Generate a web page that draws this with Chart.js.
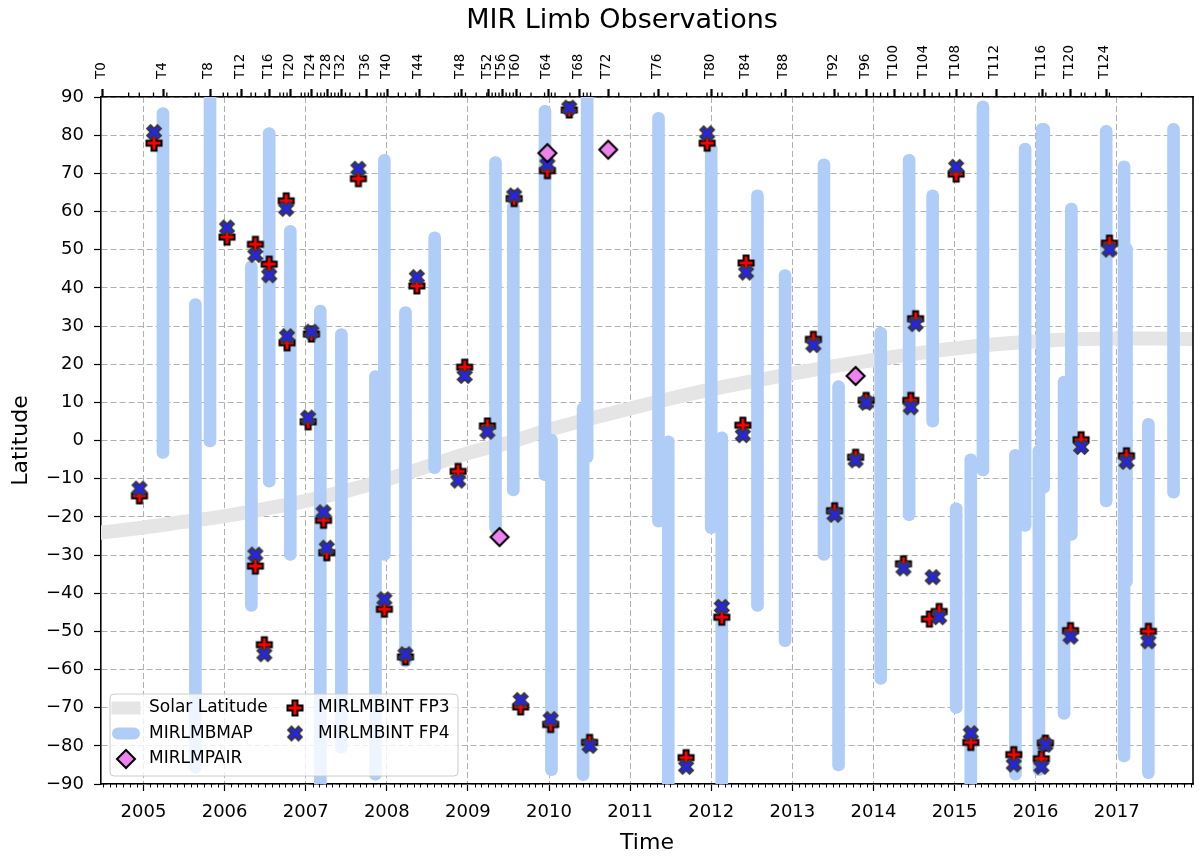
<!DOCTYPE html>
<html>
<head>
<meta charset="utf-8">
<title>MIR Limb Observations</title>
<script src="https://cdn.jsdelivr.net/npm/chart.js@4.4.1/dist/chart.umd.min.js"></script>
<style>
    html, body { margin: 0; padding: 0; background: #fff; }
    #wrap { width: 1202px; height: 857px; }
</style>
</head>
<body>
<div id="wrap"><canvas id="mirChart" width="1202" height="857"></canvas></div>
<script>
// Titan flybys shown on the top axis
const flybyNames = ['T0', 'TA', 'TB'];
for (let n = 3; n <= 126; n++) flybyNames.push('T' + n);
const flybyDates = [
    '2004-07-02', '2004-10-26', '2004-12-13', '2005-02-15', '2005-03-31', '2005-04-16', '2005-08-22', '2005-09-07',
    '2005-10-28', '2005-12-26', '2006-01-15', '2006-02-27', '2006-03-19', '2006-04-30', '2006-05-20', '2006-07-02',
    '2006-07-22', '2006-09-07', '2006-09-23', '2006-10-09', '2006-10-25', '2006-12-12', '2006-12-28', '2007-01-13',
    '2007-01-29', '2007-02-22', '2007-03-10', '2007-03-26', '2007-04-10', '2007-04-26', '2007-05-12', '2007-05-28',
    '2007-06-13', '2007-06-29', '2007-07-19', '2007-08-31', '2007-10-02', '2007-11-19', '2007-12-05', '2007-12-20',
    '2008-01-05', '2008-02-22', '2008-03-25', '2008-05-12', '2008-05-28', '2008-07-31', '2008-11-03', '2008-11-19',
    '2008-12-05', '2008-12-21', '2009-02-07', '2009-03-27', '2009-04-04', '2009-04-20', '2009-05-05', '2009-05-21',
    '2009-06-06', '2009-06-22', '2009-07-08', '2009-07-24', '2009-08-09', '2009-08-25', '2009-10-12', '2009-12-12',
    '2009-12-28', '2010-01-12', '2010-01-28', '2010-04-05', '2010-05-20', '2010-06-05', '2010-06-21', '2010-07-07',
    '2010-09-24', '2010-11-11', '2011-02-18', '2011-04-19', '2011-05-08', '2011-06-20', '2011-09-12', '2011-12-13',
    '2012-01-02', '2012-01-30', '2012-02-19', '2012-05-22', '2012-06-07', '2012-07-24', '2012-09-26', '2012-11-13',
    '2012-11-29', '2013-02-17', '2013-04-05', '2013-05-23', '2013-07-10', '2013-07-26', '2013-09-12', '2013-10-14',
    '2013-12-01', '2014-01-01', '2014-02-02', '2014-03-06', '2014-04-07', '2014-05-17', '2014-06-18', '2014-07-20',
    '2014-08-21', '2014-09-22', '2014-10-24', '2014-12-10', '2015-01-11', '2015-02-12', '2015-03-16', '2015-05-07',
    '2015-07-07', '2015-09-28', '2015-11-13', '2016-01-16', '2016-02-01', '2016-02-16', '2016-04-04', '2016-05-06',
    '2016-06-07', '2016-07-25', '2016-08-10', '2016-09-27', '2016-11-14', '2016-11-29', '2017-04-22'
];

// Year ticks on the bottom axis
const yearTicks = [2005, 2006, 2007, 2008, 2009, 2010, 2011, 2012, 2013, 2014, 2015, 2016, 2017];

// Solar latitude (decimal year, degrees)
const solarTimes = [2004.45, 2005.0, 2005.5, 2006.0, 2006.5, 2007.0, 2007.5, 2008.0, 2008.5, 2009.0, 2009.5, 2010.0, 2010.5, 2011.0,
    2011.5, 2012.0, 2012.5, 2013.0, 2013.5, 2014.0, 2014.5, 2015.0, 2015.5, 2016.0, 2016.5, 2017.0, 2017.5, 2018.0];
const solarLat = [-24.2, -22.8, -21.3, -19.8, -17.9, -15.8, -13.2, -10.2, -6.8, -3.3, -0.6, 2.8, 5.7, 8.4,
    11.0, 13.4, 15.5, 17.5, 19.4, 21.1, 22.7, 24.1, 25.2, 26.0, 26.5, 26.7, 26.7, 26.5];

// MIRLMBMAP latitude coverage
const mapTimes = [2005.24, 2005.64, 2005.82, 2006.33, 2006.55, 2006.81, 2007.18, 2007.44, 2007.86, 2007.97, 2008.23,
    2008.59, 2009.34, 2009.56, 2009.95, 2010.03, 2010.42, 2010.47, 2011.35, 2011.47, 2012.00, 2012.13, 2012.57, 2012.91,
    2013.39, 2013.57, 2014.09, 2014.44, 2014.73, 2015.02, 2015.20, 2015.35, 2015.75, 2015.87, 2016.04, 2016.08, 2016.10,
    2016.35, 2016.44, 2016.87, 2017.09, 2017.12, 2017.39, 2017.70];
const mapLatMin = [-4.7, -87.2, -1.7, -44.8, -12.2, -31.4, -92, -82.0, -89.0, -31.4, -59.3,
    -8.7, -24.4, -14.5, -10.5, -87.8, -89.1, -5.8, -22.7, -92, -24.4, -92, -44.8, -54.0,
    -31.4, -86.6, -63.9, -21.0, 3.5, -71.5, -92, -9.3, -89.0, -23.8, -87.8, -4.4, -13.8,
    -73.1, -26.2, -17.4, -84.2, -38.4, -88.6, -15.1];
const mapLatMax = [87.2, 37.2, 92, 47.1, 82.0, 56.4, 35.5, 29.3, 18.3, 75.0, 35.1,
    54.7, 74.4, 62.8, 87.8, 1.7, 9.9, 92, 86.0, 1.2, 77.9, 2.3, 65.7, 44.8,
    73.8, 15.7, 29.7, 75.0, 65.7, -16.3, -3.5, 89.0, -2.3, 77.9, -1.2, 83.1, 83.1,
    16.9, 62.2, 82.6, 73.3, 51.7, 5.8, 83.1];

// MIRLMPAIR
const pairTimes = [2009.39, 2009.98, 2010.73, 2013.78];
const pairLat = [-25.3, 75.3, 76.2, 16.9];

// MIRLMBINT FP3
const fp3Times = [2004.95, 2005.13, 2006.03, 2006.38, 2006.38, 2006.49, 2006.55, 2006.76, 2006.77, 2007.03, 2007.07,
    2007.22, 2007.26, 2007.65, 2007.97, 2008.23, 2008.37, 2008.88, 2008.96, 2009.24, 2009.57, 2009.65, 2009.98, 2010.02,
    2010.25, 2010.50, 2011.69, 2011.95, 2012.13, 2012.39, 2012.43, 2013.26, 2013.52, 2013.78, 2013.91, 2014.37, 2014.46,
    2014.52, 2014.69, 2014.81, 2015.02, 2015.20, 2015.73, 2016.07, 2016.12, 2016.43, 2016.56, 2016.91, 2017.12, 2017.39];
const fp3Lat = [-14.5, 77.9, 53.3, 51.4, -32.9, -53.5, 46.2, 62.8, 25.6, 4.9, 27.9,
    -20.9, -29.4, 68.6, -44.2, -56.7, 40.5, -8.1, 19.2, 3.8, 63.4, -69.8, 70.7, -74.4,
    86.6, -79.1, -83.1, 77.9, -46.3, 4.0, 46.5, 26.5, -18.4, -4.4, 10.5, -32.3, 10.5,
    31.9, -46.8, -44.8, 69.8, -79.1, -82.3, -83.4, -79.3, -49.8, 0.2, 51.7, -4.0, -50.0];

// MIRLMBINT FP4
const fp4Times = [2004.95, 2005.13, 2006.03, 2006.38, 2006.38, 2006.49, 2006.55, 2006.76, 2006.77, 2007.03, 2007.07,
    2007.22, 2007.26, 2007.65, 2007.97, 2008.23, 2008.37, 2008.88, 2008.96, 2009.24, 2009.57, 2009.65, 2009.98, 2010.02,
    2010.25, 2010.50, 2011.69, 2011.95, 2012.13, 2012.39, 2012.43, 2013.26, 2013.52, 2013.78, 2013.91, 2014.37, 2014.46,
    2014.52, 2014.73, 2014.81, 2015.02, 2015.20, 2015.73, 2016.07, 2016.12, 2016.43, 2016.56, 2016.91, 2017.12, 2017.39];
const fp4Lat = [-12.6, 80.8, 55.8, 48.6, -29.9, -56.0, 43.3, 60.7, 27.3, 6.0, 28.5,
    -18.8, -28.1, 71.2, -41.6, -56.0, 42.8, -10.5, 16.9, 2.3, 64.2, -68.0, 72.3, -73.0,
    87.2, -80.0, -85.5, 80.5, -43.6, 1.4, 44.0, 25.0, -19.5, -5.2, 9.9, -33.5, 8.7,
    30.5, -35.8, -46.3, 71.7, -76.7, -84.9, -85.5, -79.7, -51.4, -1.7, 50.0, -5.6, -52.6];

const X_MIN = 2004.476;
const X_MAX = 2017.94;

const FONT = "'DejaVu Sans', sans-serif";
const GRID_COLOR = '#b0b0b0';
const MAP_COLOR = '#b0cdf8';
const SOLAR_COLOR = '#e5e5e5';

/**
 * Convert an ISO date (YYYY-MM-DD) to a decimal year
 */
function decYear(iso) {
    const [y, m, d] = iso.split('-').map(Number);
    const start = Date.UTC(y, 0, 1);
    const end = Date.UTC(y + 1, 0, 1);
    return y + (Date.UTC(y, m - 1, d) - start) / (end - start);
}

const flybyYears = flybyDates.map(decYear);

function isLabelledFlyby(i) {
    const m = /^T(\d+)$/.exec(flybyNames[i]);
    return !!m && Number(m[1]) % 4 === 0;
}

/**
 * Build a filled marker (matplotlib style) on a small canvas
 */
function markerCanvas(shape, scale, fill, stroke, lineWidth) {
    const size = 26;
    const c = document.createElement('canvas');
    c.width = size;
    c.height = size;
    const g = c.getContext('2d');
    g.translate(size / 2, size / 2);
    g.beginPath();
    shape.forEach(([px, py], i) => {
        if (i === 0) g.moveTo(px * scale, py * scale);
        else g.lineTo(px * scale, py * scale);
    });
    g.closePath();
    g.fillStyle = fill;
    g.fill();
    g.lineJoin = 'miter';
    g.lineWidth = lineWidth;
    g.strokeStyle = stroke;
    g.stroke();
    return c;
}

const plusShape = [[-1, -3], [-1, -1], [-3, -1], [-3, 1], [-1, 1], [-1, 3], [1, 3], [1, 1], [3, 1], [3, -1], [1, -1], [1, -3]];
const xShape = [[-1, -2], [0, -1], [1, -2], [2, -1], [1, 0], [2, 1], [1, 2], [0, 1], [-1, 2], [-2, 1], [-1, 0], [-2, -1]];
const diamondShape = [[0, -1], [1, 0], [0, 1], [-1, 0]];

const plusMarker = markerCanvas(plusShape, 2.5, '#ff0000', '#000000', 2);
const xMarker = markerCanvas(xShape, 3.5, '#2424ee', '#383838', 1.8);
const diamondMarker = markerCanvas(diamondShape, 9, '#ee82ee', '#000000', 2);

function toPoints(xs, ys) {
    return xs.map((x, i) => ({ x: x, y: ys[i] }));
}

/**
 * Extra drawing: title, right spine, minor ticks, flyby ticks and the legend box
 */
const mirExtras = {
    id: 'mirExtras',
    afterDraw(chart) {
        const { ctx, chartArea: area, scales } = chart;
        const xs = scales.x;
        ctx.save();

        // title
        ctx.fillStyle = '#000';
        ctx.font = '27px ' + FONT;
        ctx.textAlign = 'center';
        ctx.textBaseline = 'middle';
        ctx.fillText('MIR Limb Observations', 622, 21);

        // right spine
        ctx.strokeStyle = '#000';
        ctx.lineWidth = 1.6;
        ctx.beginPath();
        ctx.moveTo(area.right, area.top - 0.8);
        ctx.lineTo(area.right, area.bottom + 0.8);
        ctx.stroke();

        // monthly minor ticks on the time axis
        ctx.lineWidth = 1;
        ctx.beginPath();
        for (let y = 2004; y <= 2018; y++) {
            for (let m = 2; m <= 12; m++) {
                const v = decYear(y + '-' + String(m).padStart(2, '0') + '-01');
                if (v < xs.min || v > xs.max) continue;
                const px = Math.round(xs.getPixelForValue(v)) + 0.5;
                ctx.moveTo(px, area.bottom);
                ctx.lineTo(px, area.bottom + 3.5);
            }
        }
        ctx.stroke();

        // short ticks for unlabelled flybys
        ctx.lineWidth = 1.3;
        ctx.beginPath();
        flybyYears.forEach((v, i) => {
            if (isLabelledFlyby(i)) return;
            const px = scales.x2.getPixelForValue(v);
            ctx.moveTo(px, area.top);
            ctx.lineTo(px, area.top - 4.5);
        });
        ctx.stroke();

        // legend
        const bx = area.left + 9;
        const by = area.bottom - 90;
        const bw = 348;
        const bh = 82;
        const r = 4;
        ctx.beginPath();
        ctx.moveTo(bx + r, by);
        ctx.lineTo(bx + bw - r, by);
        ctx.arcTo(bx + bw, by, bx + bw, by + r, r);
        ctx.lineTo(bx + bw, by + bh - r);
        ctx.arcTo(bx + bw, by + bh, bx + bw - r, by + bh, r);
        ctx.lineTo(bx + r, by + bh);
        ctx.arcTo(bx, by + bh, bx, by + bh - r, r);
        ctx.lineTo(bx, by + r);
        ctx.arcTo(bx, by, bx + r, by, r);
        ctx.closePath();
        ctx.fillStyle = 'rgba(255,255,255,0.8)';
        ctx.fill();
        ctx.strokeStyle = '#cccccc';
        ctx.lineWidth = 1;
        ctx.stroke();

        const rows = [by + 14, by + 39.5, by + 65];
        const hx1 = bx + 8;
        const hx2 = bx + 24;
        const col2 = bx + 185;

        ctx.strokeStyle = SOLAR_COLOR;
        ctx.lineWidth = 13;
        ctx.lineCap = 'square';
        ctx.beginPath();
        ctx.moveTo(hx1, rows[0]);
        ctx.lineTo(hx2, rows[0]);
        ctx.stroke();

        ctx.strokeStyle = MAP_COLOR;
        ctx.lineWidth = 12;
        ctx.lineCap = 'round';
        ctx.beginPath();
        ctx.moveTo(hx1, rows[1]);
        ctx.lineTo(hx2, rows[1]);
        ctx.stroke();

        const drawImg = (img, cx, cy) => ctx.drawImage(img, cx - img.width / 2, cy - img.height / 2);
        drawImg(diamondMarker, (hx1 + hx2) / 2, rows[2]);
        drawImg(plusMarker, col2, rows[0]);
        drawImg(xMarker, col2, rows[1]);

        ctx.fillStyle = '#000';
        ctx.font = '17px ' + FONT;
        ctx.textBaseline = 'middle';
        ctx.textAlign = 'left';
        ctx.fillText('Solar Latitude', bx + 39, rows[0]);
        ctx.fillText('MIRLMBMAP', bx + 39, rows[1]);
        ctx.fillText('MIRLMPAIR', bx + 39, rows[2]);
        ctx.fillText('MIRLMBINT FP3', col2 + 23, rows[0]);
        ctx.fillText('MIRLMBINT FP4', col2 + 23, rows[1]);

        ctx.restore();
    }
};

Chart.defaults.font.family = FONT;
Chart.defaults.color = '#000';

const ctx = document.getElementById('mirChart').getContext('2d');

new Chart(ctx, {
    type: 'scatter',
    data: {
        datasets: [
            {
                type: 'line',
                label: 'Solar Latitude',
                data: toPoints(solarTimes, solarLat),
                borderColor: SOLAR_COLOR,
                borderWidth: 14,
                pointRadius: 0,
                cubicInterpolationMode: 'monotone',
                fill: false,
                clip: 0,
                order: 5
            },
            {
                type: 'bar',
                label: 'MIRLMBMAP',
                data: mapTimes.map((t, i) => ({ x: t, y: [mapLatMin[i], mapLatMax[i]] })),
                backgroundColor: MAP_COLOR,
                barThickness: 12,
                borderRadius: 6,
                borderSkipped: false,
                order: 4
            },
            {
                label: 'MIRLMBINT FP3',
                data: toPoints(fp3Times, fp3Lat),
                pointStyle: plusMarker,
                pointRadius: 8,
                order: 2
            },
            {
                label: 'MIRLMBINT FP4',
                data: toPoints(fp4Times, fp4Lat),
                pointStyle: xMarker,
                pointRadius: 8,
                order: 1
            },
            {
                label: 'MIRLMPAIR',
                data: toPoints(pairTimes, pairLat),
                pointStyle: diamondMarker,
                pointRadius: 8,
                order: 0
            }
        ]
    },
    options: {
        responsive: false,
        animation: false,
        devicePixelRatio: 1,
        events: [],
        layout: {
            padding: { top: 36, left: 0, right: 2, bottom: 0 }
        },
        scales: {
            x: {
                type: 'linear',
                position: 'bottom',
                min: X_MIN,
                max: X_MAX,
                offset: false,
                afterBuildTicks: scale => {
                    scale.ticks = yearTicks.map(v => ({ value: v }));
                },
                afterFit: scale => {
                    scale.height = 73;
                },
                ticks: {
                    autoSkip: false,
                    maxRotation: 0,
                    padding: 11,
                    font: { size: 18 },
                    callback: value => String(value)
                },
                grid: {
                    color: GRID_COLOR,
                    lineWidth: 1,
                    offset: false,
                    tickLength: 7,
                    tickColor: '#000',
                    tickWidth: 1.2
                },
                border: { display: true, color: '#000', width: 1.6, dash: [6, 3] },
                title: {
                    display: true,
                    text: 'Time',
                    font: { size: 22 },
                    padding: { top: 0, bottom: 1 }
                }
            },
            x2: {
                type: 'linear',
                position: 'top',
                min: X_MIN,
                max: X_MAX,
                offset: false,
                afterBuildTicks: scale => {
                    scale.ticks = flybyYears.map(v => ({ value: v }));
                },
                afterFit: scale => {
                    scale.height = 61;
                },
                ticks: {
                    autoSkip: false,
                    minRotation: 90,
                    maxRotation: 90,
                    padding: 10,
                    labelOffset: 15,
                    font: { size: 13.5 },
                    callback: (value, index) => (isLabelledFlyby(index) ? flybyNames[index] : '')
                },
                grid: {
                    drawOnChartArea: false,
                    tickLength: 8,
                    tickWidth: 2.2,
                    tickColor: c => (isLabelledFlyby(c.index) ? '#000' : 'rgba(0,0,0,0)')
                },
                border: { display: true, color: '#000', width: 1.6 }
            },
            y: {
                type: 'linear',
                min: -90,
                max: 90,
                afterFit: scale => {
                    scale.width = 101;
                },
                ticks: {
                    stepSize: 10,
                    padding: 10,
                    font: { size: 18 },
                    callback: value => (value < 0 ? '\u2212' + Math.abs(value) : String(value))
                },
                grid: {
                    color: GRID_COLOR,
                    lineWidth: 1,
                    tickLength: 7,
                    tickColor: '#000',
                    tickWidth: 1.2
                },
                border: { display: true, color: '#000', width: 1.6, dash: [6, 3] },
                title: {
                    display: true,
                    text: 'Latitude',
                    font: { size: 22 },
                    padding: { top: 8, bottom: 0 }
                }
            }
        },
        plugins: {
            legend: { display: false },
            tooltip: { enabled: false },
            title: { display: false }
        }
    },
    plugins: [mirExtras]
});
</script>
</body>
</html>
